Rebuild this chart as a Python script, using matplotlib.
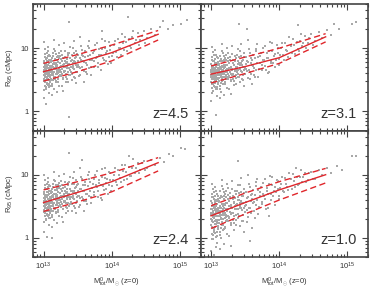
import numpy as np
import matplotlib
matplotlib.use("Agg")
import matplotlib.pyplot as plt
from matplotlib.ticker import LogLocator, FixedLocator, NullFormatter

plt.rcParams['font.family'] = ['Liberation Sans', 'DejaVu Sans']
plt.rcParams['mathtext.fontset'] = 'custom'
plt.rcParams['mathtext.rm'] = 'Liberation Sans'
plt.rcParams['mathtext.it'] = 'Liberation Sans'

# ---------------- data (log10 values) ----------------
REDSHIFT_LABELS = ["z=4.5", "z=3.1", "z=2.4", "z=1.0"]

PTS_Z45 = [(13.00,0.62),(13.01,0.48),(13.01,0.77),(13.02,0.55),(13.02,0.91),(13.03,0.66),(13.03,0.38),(13.04,0.71),(13.04,0.59),(13.05,0.84),(13.05,0.45),(13.06,0.63),(13.06,1.02),(13.07,0.52),(13.07,0.74),(13.08,0.68),(13.08,0.29),(13.09,0.57),(13.09,0.81),(13.10,0.64),(13.00,0.70),(13.01,0.34),(13.02,0.73),(13.03,0.83),(13.04,0.50),(13.05,0.60),(13.06,0.42),(13.07,0.95),(13.08,0.56),(13.09,0.70),(13.10,0.47),(13.00,0.21),(13.01,1.10),(13.03,0.12),(13.05,0.68),(13.07,0.61),(13.09,0.40),(13.02,0.64),(13.06,0.78),(13.10,0.88),
    (13.11,0.66),(13.11,0.52),(13.12,0.79),(13.12,0.61),(13.13,0.44),(13.13,0.72),(13.14,0.87),(13.14,0.58),(13.15,0.67),(13.15,0.36),(13.16,0.75),(13.16,0.63),(13.17,0.96),(13.17,0.54),(13.18,0.70),(13.18,0.47),(13.19,0.82),(13.19,0.65),(13.20,0.59),(13.20,0.74),(13.21,0.88),(13.21,0.51),(13.22,0.69),(13.22,0.62),(13.23,1.05),(13.23,0.41),(13.24,0.77),(13.24,0.66),(13.25,0.56),(13.25,0.83),(13.13,0.26),(13.16,1.13),(13.19,0.30),(13.22,0.93),(13.12,0.70),
    (13.26,0.72),(13.27,0.60),(13.28,0.85),(13.29,0.53),(13.30,0.70),(13.31,0.95),(13.32,0.64),(13.33,0.46),(13.34,0.78),(13.35,0.68),(13.36,0.89),(13.37,0.57),(13.38,0.75),(13.39,1.02),(13.40,0.63),(13.41,0.81),(13.42,0.50),(13.43,0.72),(13.44,0.92),(13.45,0.67),(13.27,0.40),(13.30,1.08),(13.33,0.77),(13.36,0.62),(13.39,0.84),(13.42,0.71),(13.37,-0.08),(13.37,1.41),(13.29,0.33),(13.44,1.12),
    (13.46,0.78),(13.47,0.62),(13.49,0.91),(13.50,0.73),(13.52,0.56),(13.53,0.85),(13.55,1.04),(13.56,0.70),(13.58,0.80),(13.59,0.64),(13.61,0.95),(13.62,0.76),(13.64,0.59),(13.65,0.88),(13.67,1.12),(13.68,0.81),(13.70,0.71),(13.48,0.45),(13.54,1.18),(13.60,0.47),(13.66,1.00),(13.57,0.90),
    (13.72,0.92),(13.74,0.79),(13.76,1.05),(13.78,0.86),(13.80,0.70),(13.82,0.98),(13.84,0.90),(13.86,1.15),(13.88,0.82),(13.90,1.01),(13.92,0.93),(13.94,0.75),(13.96,1.10),(13.98,0.97),(14.00,0.88),(13.85,1.27),
    (14.03,1.05),(14.06,0.94),(14.09,1.14),(14.12,1.01),(14.15,1.22),(14.18,0.97),(14.21,1.10),(14.24,1.50),(14.27,1.04),(14.30,1.17),(14.34,1.09),(14.38,1.24),
    (14.42,1.13),(14.47,1.27),(14.52,1.16),(14.58,1.30),(14.63,1.21),(14.70,1.33),(14.75,1.43),(14.82,1.31),(14.90,1.37),(15.02,1.39),(15.10,1.44),
    (13.005,0.58),(13.015,0.69),(13.025,0.47),(13.035,0.75),(13.045,0.64),(13.055,0.53),(13.065,0.87),(13.075,0.66),(13.085,0.43),(13.095,0.72),
    (13.005,0.79),(13.015,0.41),(13.025,0.60),(13.035,0.55),(13.045,0.93),(13.055,0.71),(13.065,0.49),(13.075,0.58),(13.085,0.77),(13.095,0.62),
    (13.005,0.51),(13.015,0.86),(13.025,0.68),(13.035,0.36),(13.045,0.73),(13.055,0.63),(13.065,0.56),(13.075,0.81),(13.085,0.61),(13.095,0.49),
    (13.005,0.66),(13.015,0.57),(13.025,0.98),(13.035,0.63),(13.045,0.44),(13.055,0.80),(13.065,0.69),(13.075,0.39),(13.085,0.90),(13.095,0.55),
    (13.105,0.69),(13.115,0.57),(13.125,0.84),(13.135,0.62),(13.145,0.49),(13.155,0.76),(13.165,0.68),(13.175,0.59),(13.185,0.91),(13.195,0.72),
    (13.105,0.50),(13.115,0.78),(13.125,0.64),(13.135,0.92),(13.145,0.71),(13.155,0.55),(13.165,0.83),(13.175,0.74),(13.185,0.48),(13.195,0.63),
    (13.105,0.82),(13.115,0.66),(13.125,0.40),(13.135,0.75),(13.145,0.60),(13.155,0.99),(13.165,0.52),(13.175,0.67),(13.185,0.77),(13.195,0.86),
    (13.205,0.66),(13.215,0.78),(13.225,0.56),(13.235,0.71),(13.245,0.88),(13.255,0.63),(13.265,0.80),(13.275,0.67),(13.285,0.52),(13.295,0.75),
    (13.205,0.47),(13.215,0.61),(13.225,0.85),(13.235,0.58),(13.245,0.70),(13.255,0.96),(13.265,0.59),(13.275,0.90),(13.285,0.73),(13.295,0.64),
    (13.31,0.71),(13.33,0.60),(13.35,0.83),(13.37,0.69),(13.39,0.58),(13.41,0.90),(13.43,0.77),(13.45,0.55),(13.47,0.86),(13.49,0.70),
    (13.32,0.86),(13.34,0.52),(13.36,0.75),(13.38,0.93),(13.40,0.70),(13.44,0.80),(13.48,0.96),(13.51,0.79),(13.53,0.68),(13.58,0.88),
    (13.305,0.62),(13.315,0.80),(13.325,0.55),(13.345,0.70),(13.355,0.92),(13.365,0.47),(13.385,0.66),(13.395,0.79),(13.415,0.59),(13.425,1.00),
    (13.435,0.68),(13.455,0.84),(13.465,0.53),(13.475,0.74),(13.495,0.63),(13.505,0.90),(13.515,0.71),(13.535,0.57),(13.545,0.82),(13.565,0.97),
    (13.575,0.66),(13.595,0.78),(13.605,0.86),(13.625,0.62),(13.635,0.73),(13.655,1.03),(13.665,0.69),(13.685,0.90),(13.695,0.58),(13.715,0.81),
    (13.735,0.96),(13.745,0.70),(13.765,0.85),(13.785,1.08),(13.795,0.76),(13.815,0.89),(13.835,0.65),(13.855,0.99),(13.875,0.84),(13.895,1.12),
    (13.915,0.80),(13.935,0.95),(13.955,0.86),(13.975,1.04),(13.995,0.77),(14.015,0.93),(14.045,1.12),(14.075,0.86),(14.105,1.01),(14.135,0.90),
    (14.165,1.08),(14.195,1.18),(14.225,0.95),(14.255,1.14),(14.285,1.00),(14.315,1.27),(14.355,1.13),(14.395,1.05),(14.44,1.20),(14.49,1.09)]

PTS_Z31 = [(13.00,0.58),(13.01,0.44),(13.01,0.72),(13.02,0.51),(13.02,0.86),(13.03,0.62),(13.03,0.33),(13.04,0.67),(13.04,0.55),(13.05,0.79),(13.05,0.41),(13.06,0.60),(13.06,0.97),(13.07,0.48),(13.07,0.70),(13.08,0.64),(13.08,0.24),(13.09,0.53),(13.09,0.76),(13.10,0.61),(13.00,0.66),(13.01,0.29),(13.02,0.69),(13.03,0.80),(13.04,0.46),(13.05,0.56),(13.06,0.38),(13.07,0.90),(13.08,0.52),(13.09,0.66),(13.10,0.43),(13.00,0.16),(13.01,1.02),(13.07,-0.06),(13.05,0.63),(13.07,0.57),(13.09,0.35),(13.02,0.60),(13.06,0.74),(13.10,0.84),
    (13.11,0.62),(13.11,0.48),(13.12,0.75),(13.12,0.57),(13.13,0.40),(13.13,0.68),(13.14,0.83),(13.14,0.54),(13.15,0.63),(13.15,0.31),(13.16,0.71),(13.16,0.59),(13.17,0.92),(13.17,0.50),(13.18,0.66),(13.18,0.43),(13.19,0.78),(13.19,0.61),(13.20,0.55),(13.20,0.70),(13.21,0.84),(13.21,0.47),(13.22,0.65),(13.22,0.58),(13.23,1.00),(13.23,0.37),(13.24,0.73),(13.24,0.62),(13.25,0.52),(13.25,0.79),(13.13,0.21),(13.16,1.06),(13.19,0.26),(13.22,0.89),(13.12,0.66),
    (13.26,0.68),(13.27,0.56),(13.28,0.81),(13.29,0.49),(13.30,0.66),(13.31,0.91),(13.32,0.60),(13.33,0.42),(13.34,0.74),(13.35,0.64),(13.36,0.85),(13.37,0.53),(13.38,0.71),(13.39,0.98),(13.40,0.59),(13.41,0.77),(13.42,0.46),(13.43,0.68),(13.44,0.88),(13.45,0.63),(13.27,0.36),(13.30,1.03),(13.33,0.73),(13.36,0.58),(13.39,0.80),(13.42,0.67),(13.41,1.38),(13.29,0.28),(13.44,1.07),
    (13.46,0.73),(13.47,0.58),(13.49,0.86),(13.50,0.68),(13.52,1.30),(13.53,0.80),(13.55,0.99),(13.56,0.66),(13.58,0.76),(13.59,0.60),(13.61,0.90),(13.62,0.72),(13.64,0.55),(13.65,0.84),(13.67,1.06),(13.68,0.77),(13.70,0.67),(13.48,0.41),(13.54,1.13),(13.60,0.44),(13.66,0.96),(13.57,0.52),
    (13.72,0.87),(13.74,0.74),(13.76,1.00),(13.78,0.81),(13.80,0.66),(13.82,0.93),(13.84,0.85),(13.86,1.10),(13.88,0.77),(13.90,0.96),(13.92,0.88),(13.94,0.70),(13.96,1.05),(13.98,0.92),(14.00,0.83),(13.85,0.62),
    (14.03,1.00),(14.06,0.89),(14.09,1.09),(14.12,0.96),(14.15,1.17),(14.18,0.92),(14.21,1.05),(14.28,1.36),(14.27,0.99),(14.30,1.12),(14.34,1.04),(14.38,1.19),
    (14.42,1.08),(14.47,1.22),(14.52,1.11),(14.58,1.25),(14.63,1.16),(14.70,1.28),(14.76,1.21),(14.80,1.39),(14.88,1.30),(15.07,1.38),(15.12,1.41),
    (13.005,0.54),(13.015,0.65),(13.025,0.43),(13.035,0.71),(13.045,0.60),(13.055,0.49),(13.065,0.83),(13.075,0.62),(13.085,0.39),(13.095,0.68),
    (13.005,0.75),(13.015,0.37),(13.025,0.56),(13.035,0.51),(13.045,0.89),(13.055,0.67),(13.065,0.45),(13.075,0.54),(13.085,0.73),(13.095,0.58),
    (13.005,0.47),(13.015,0.82),(13.025,0.64),(13.035,0.32),(13.045,0.69),(13.055,0.59),(13.065,0.52),(13.075,0.77),(13.085,0.57),(13.095,0.45),
    (13.005,0.62),(13.015,0.53),(13.025,0.94),(13.035,0.59),(13.045,0.40),(13.055,0.76),(13.065,0.65),(13.075,0.35),(13.085,0.86),(13.095,0.51),
    (13.105,0.65),(13.115,0.53),(13.125,0.80),(13.135,0.58),(13.145,0.45),(13.155,0.72),(13.165,0.64),(13.175,0.55),(13.185,0.87),(13.195,0.68),
    (13.105,0.46),(13.115,0.74),(13.125,0.60),(13.135,0.88),(13.145,0.67),(13.155,0.51),(13.165,0.79),(13.175,0.70),(13.185,0.44),(13.195,0.59),
    (13.105,0.78),(13.115,0.62),(13.125,0.36),(13.135,0.71),(13.145,0.56),(13.155,0.95),(13.165,0.48),(13.175,0.63),(13.185,0.73),(13.195,0.82),
    (13.205,0.62),(13.215,0.74),(13.225,0.52),(13.235,0.67),(13.245,0.84),(13.255,0.59),(13.265,0.76),(13.275,0.63),(13.285,0.48),(13.295,0.71),
    (13.205,0.43),(13.215,0.57),(13.225,0.81),(13.235,0.54),(13.245,0.66),(13.255,0.92),(13.265,0.55),(13.275,0.86),(13.285,0.69),(13.295,0.60),
    (13.31,0.67),(13.33,0.56),(13.35,0.79),(13.37,0.65),(13.39,0.54),(13.41,0.86),(13.43,0.73),(13.45,0.51),(13.47,0.82),(13.49,0.66),
    (13.32,0.82),(13.34,0.48),(13.36,0.71),(13.38,0.89),(13.40,0.66),(13.44,0.76),(13.48,0.92),(13.51,0.75),(13.53,0.64),(13.58,0.84),
    (13.305,0.58),(13.315,0.76),(13.325,0.51),(13.345,0.66),(13.355,0.88),(13.365,0.43),(13.385,0.62),(13.395,0.75),(13.415,0.55),(13.425,0.96),
    (13.435,0.64),(13.455,0.80),(13.465,0.49),(13.475,0.70),(13.495,0.59),(13.505,0.86),(13.515,0.67),(13.535,0.53),(13.545,0.78),(13.565,0.93),
    (13.575,0.62),(13.595,0.74),(13.605,0.82),(13.625,0.58),(13.635,0.69),(13.655,0.99),(13.665,0.65),(13.685,0.86),(13.695,0.54),(13.715,0.77),
    (13.735,0.92),(13.745,0.66),(13.765,0.81),(13.785,1.04),(13.795,0.72),(13.815,0.85),(13.835,0.61),(13.855,0.95),(13.875,0.80),(13.895,1.08),
    (13.915,0.76),(13.935,0.91),(13.955,0.82),(13.975,1.00),(13.995,0.73),(14.015,0.89),(14.045,1.08),(14.075,0.82),(14.105,0.97),(14.135,0.86),
    (14.165,1.04),(14.195,1.14),(14.225,0.91),(14.255,1.10),(14.285,0.96),(14.315,1.23),(14.355,1.09),(14.395,1.01),(14.44,1.16),(14.49,1.05)]

PTS_Z24 = [(13.00,0.55),(13.01,0.41),(13.01,0.70),(13.02,0.48),(13.02,0.84),(13.03,0.59),(13.03,0.30),(13.04,0.65),(13.04,0.52),(13.05,0.77),(13.05,0.38),(13.06,0.57),(13.06,0.95),(13.07,0.45),(13.07,0.68),(13.08,0.61),(13.08,0.21),(13.09,0.50),(13.09,0.74),(13.10,0.58),(13.00,0.63),(13.01,0.26),(13.02,0.67),(13.03,0.78),(13.04,0.43),(13.05,0.53),(13.06,0.35),(13.07,0.88),(13.08,0.49),(13.09,0.64),(13.10,0.40),(13.00,0.10),(13.01,0.99),(13.05,0.02),(13.12,0.00),(13.07,0.54),(13.09,0.32),(13.02,0.57),(13.06,0.72),(13.10,0.82),
    (13.11,0.60),(13.11,0.45),(13.12,0.73),(13.12,0.55),(13.13,0.37),(13.13,0.66),(13.14,0.81),(13.14,0.51),(13.15,0.61),(13.15,0.28),(13.16,0.69),(13.16,0.56),(13.17,0.90),(13.17,0.47),(13.18,0.64),(13.18,0.40),(13.19,0.76),(13.19,0.59),(13.20,0.52),(13.20,0.68),(13.21,0.83),(13.21,0.44),(13.22,0.63),(13.22,0.56),(13.23,0.98),(13.23,0.34),(13.24,0.71),(13.24,0.60),(13.25,0.49),(13.25,0.77),(13.13,0.18),(13.16,1.04),(13.19,0.23),(13.22,0.87),(13.12,0.64),
    (13.26,0.66),(13.27,0.53),(13.28,0.79),(13.29,0.46),(13.30,0.64),(13.31,0.89),(13.32,0.58),(13.33,0.39),(13.34,0.72),(13.35,0.62),(13.36,0.83),(13.37,0.50),(13.38,0.69),(13.39,0.96),(13.40,0.57),(13.41,0.75),(13.42,0.43),(13.43,0.66),(13.44,0.86),(13.45,0.61),(13.27,0.33),(13.30,1.01),(13.33,0.71),(13.36,0.56),(13.39,0.78),(13.42,0.65),(13.37,1.35),(13.29,0.25),(13.44,1.05),
    (13.46,0.71),(13.47,0.56),(13.49,0.84),(13.50,0.66),(13.52,0.49),(13.53,0.78),(13.55,0.97),(13.56,0.64),(13.58,0.74),(13.59,0.58),(13.61,0.88),(13.62,0.70),(13.64,0.53),(13.65,0.82),(13.67,1.04),(13.68,0.75),(13.70,0.65),(13.48,0.39),(13.54,1.11),(13.60,0.42),(13.66,0.94),(13.57,1.24),
    (13.72,0.86),(13.74,0.73),(13.76,0.99),(13.78,0.80),(13.80,0.64),(13.82,0.92),(13.84,0.84),(13.86,1.09),(13.88,0.76),(13.90,0.95),(13.92,0.87),(13.94,0.69),(13.96,1.04),(13.98,0.91),(14.00,0.82),(13.85,0.60),
    (14.03,0.99),(14.06,0.88),(14.09,1.08),(14.12,0.95),(14.15,1.16),(14.18,0.91),(14.21,1.04),(14.25,1.30),(14.27,0.98),(14.30,1.11),(14.34,1.03),(14.38,1.18),
    (14.42,1.07),(14.47,1.21),(14.52,1.10),(14.58,1.24),(14.63,1.15),(14.70,1.27),(14.76,1.20),(14.84,1.33),(14.90,1.29),(15.02,1.42),(15.07,1.40),
    (13.005,0.51),(13.015,0.62),(13.025,0.40),(13.035,0.68),(13.045,0.57),(13.055,0.46),(13.065,0.80),(13.075,0.59),(13.085,0.36),(13.095,0.65),
    (13.005,0.72),(13.015,0.34),(13.025,0.53),(13.035,0.48),(13.045,0.86),(13.055,0.64),(13.065,0.42),(13.075,0.51),(13.085,0.70),(13.095,0.55),
    (13.005,0.44),(13.015,0.79),(13.025,0.61),(13.035,0.29),(13.045,0.66),(13.055,0.56),(13.065,0.49),(13.075,0.74),(13.085,0.54),(13.095,0.42),
    (13.005,0.59),(13.015,0.50),(13.025,0.91),(13.035,0.56),(13.045,0.37),(13.055,0.73),(13.065,0.62),(13.075,0.32),(13.085,0.83),(13.095,0.48),
    (13.105,0.62),(13.115,0.50),(13.125,0.77),(13.135,0.55),(13.145,0.42),(13.155,0.69),(13.165,0.61),(13.175,0.52),(13.185,0.84),(13.195,0.65),
    (13.105,0.43),(13.115,0.71),(13.125,0.57),(13.135,0.85),(13.145,0.64),(13.155,0.48),(13.165,0.76),(13.175,0.67),(13.185,0.41),(13.195,0.56),
    (13.105,0.75),(13.115,0.59),(13.125,0.33),(13.135,0.68),(13.145,0.53),(13.155,0.92),(13.165,0.45),(13.175,0.60),(13.185,0.70),(13.195,0.79),
    (13.205,0.60),(13.215,0.72),(13.225,0.50),(13.235,0.65),(13.245,0.82),(13.255,0.57),(13.265,0.74),(13.275,0.61),(13.285,0.46),(13.295,0.69),
    (13.205,0.41),(13.215,0.55),(13.225,0.79),(13.235,0.52),(13.245,0.64),(13.255,0.90),(13.265,0.53),(13.275,0.84),(13.285,0.67),(13.295,0.58),
    (13.31,0.66),(13.33,0.55),(13.35,0.78),(13.37,0.64),(13.39,0.53),(13.41,0.85),(13.43,0.72),(13.45,0.50),(13.47,0.81),(13.49,0.65),
    (13.32,0.81),(13.34,0.47),(13.36,0.70),(13.38,0.88),(13.40,0.65),(13.44,0.75),(13.48,0.91),(13.51,0.74),(13.53,0.63),(13.58,0.83),
    (13.305,0.57),(13.315,0.75),(13.325,0.49),(13.345,0.65),(13.355,0.87),(13.365,0.42),(13.385,0.61),(13.395,0.74),(13.415,0.54),(13.425,0.95),
    (13.435,0.63),(13.455,0.79),(13.465,0.48),(13.475,0.69),(13.495,0.58),(13.505,0.85),(13.515,0.66),(13.535,0.52),(13.545,0.77),(13.565,0.93),
    (13.575,0.62),(13.595,0.74),(13.605,0.83),(13.625,0.59),(13.635,0.70),(13.655,1.00),(13.665,0.66),(13.685,0.88),(13.695,0.55),(13.715,0.79),
    (13.735,0.94),(13.745,0.68),(13.765,0.83),(13.785,1.06),(13.795,0.74),(13.815,0.87),(13.835,0.63),(13.855,0.97),(13.875,0.82),(13.895,1.10),
    (13.915,0.78),(13.935,0.93),(13.955,0.84),(13.975,1.02),(13.995,0.75),(14.015,0.91),(14.045,1.10),(14.075,0.84),(14.105,0.99),(14.135,0.88),
    (14.165,1.06),(14.195,1.16),(14.225,0.93),(14.255,1.12),(14.285,0.98),(14.315,1.25),(14.355,1.11),(14.395,1.03),(14.44,1.18),(14.49,1.07)]

PTS_Z10 = [(13.00,0.36),(13.01,0.18),(13.01,0.55),(13.02,0.27),(13.02,0.70),(13.03,0.40),(13.03,0.05),(13.04,0.47),(13.04,0.31),(13.05,0.62),(13.05,0.12),(13.06,0.38),(13.06,0.80),(13.07,0.22),(13.07,0.50),(13.08,0.43),(13.08,-0.08),(13.09,0.29),(13.09,0.58),(13.10,0.39),(13.00,0.46),(13.01,-0.02),(13.02,0.51),(13.03,0.64),(13.04,0.16),(13.05,0.33),(13.06,0.08),(13.07,0.74),(13.08,0.26),(13.09,0.45),(13.10,0.14),(13.00,-0.20),(13.01,0.86),(13.05,-0.27),(13.07,-0.14),(13.07,0.34),(13.09,0.03),(13.02,0.37),(13.06,0.56),(13.10,0.67),
    (13.11,0.42),(13.11,0.24),(13.12,0.58),(13.12,0.35),(13.13,0.10),(13.13,0.49),(13.14,0.67),(13.14,0.30),(13.15,0.43),(13.15,0.00),(13.16,0.53),(13.16,0.37),(13.17,0.78),(13.17,0.20),(13.18,0.46),(13.18,0.13),(13.19,0.61),(13.19,0.41),(13.20,0.32),(13.20,0.52),(13.21,0.70),(13.21,0.18),(13.22,0.45),(13.22,0.36),(13.23,0.85),(13.23,0.06),(13.24,0.55),(13.24,0.42),(13.25,0.27),(13.25,0.62),(13.13,-0.18),(13.16,0.92),(13.19,-0.10),(13.22,0.74),(13.12,0.47),
    (13.26,0.50),(13.27,0.33),(13.28,0.65),(13.29,0.24),(13.30,0.47),(13.31,0.77),(13.32,0.39),(13.33,0.12),(13.34,0.57),(13.35,0.45),(13.36,0.70),(13.37,0.29),(13.38,0.53),(13.39,0.84),(13.40,0.38),(13.41,0.60),(13.42,0.19),(13.43,0.50),(13.44,0.73),(13.45,0.44),(13.27,0.03),(13.30,0.90),(13.33,0.55),(13.36,0.36),(13.39,0.64),(13.42,0.48),(13.39,1.22),(13.29,-0.12),(13.44,0.95),
    (13.46,0.55),(13.47,0.37),(13.49,0.71),(13.50,0.50),(13.52,0.26),(13.53,0.63),(13.55,0.86),(13.56,0.47),(13.58,0.59),(13.59,0.39),(13.61,0.76),(13.62,0.55),(13.64,0.32),(13.65,0.68),(13.67,0.93),(13.68,0.60),(13.70,0.49),(13.48,0.10),(13.54,1.00),(13.60,0.15),(13.66,0.82),(13.57,-0.05),
    (13.72,0.72),(13.74,0.57),(13.76,0.87),(13.78,0.66),(13.80,0.46),(13.82,0.79),(13.84,0.70),(13.86,0.98),(13.88,0.60),(13.90,0.83),(13.92,0.74),(13.94,0.52),(13.96,0.92),(13.98,0.78),(14.00,0.67),(13.85,0.35),
    (14.03,0.86),(14.06,0.74),(14.09,0.95),(14.12,0.81),(14.15,1.03),(14.18,0.77),(14.21,0.90),(14.25,1.10),(14.27,0.84),(14.30,0.97),(14.34,0.88),(14.38,1.02),
    (14.42,0.92),(14.47,1.05),(14.52,0.94),(14.58,1.08),(14.63,0.99),(14.70,1.10),(14.76,1.02),(14.84,1.14),(14.92,1.08),(15.07,1.30),(15.12,1.29),
    (13.005,0.30),(13.015,0.45),(13.025,0.15),(13.035,0.52),(13.045,0.38),(13.055,0.22),(13.065,0.66),(13.075,0.41),(13.085,0.09),(13.095,0.48),
    (13.005,0.58),(13.015,0.06),(13.025,0.33),(13.035,0.25),(13.045,0.73),(13.055,0.47),(13.065,0.18),(13.075,0.29),(13.085,0.54),(13.095,0.35),
    (13.005,0.20),(13.015,0.64),(13.025,0.42),(13.035,-0.01),(13.045,0.50),(13.055,0.37),(13.065,0.27),(13.075,0.60),(13.085,0.34),(13.095,0.17),
    (13.005,0.40),(13.015,0.28),(13.025,0.78),(13.035,0.36),(13.045,0.10),(13.055,0.59),(13.065,0.44),(13.075,0.02),(13.085,0.70),(13.095,0.24),
    (13.105,0.44),(13.115,0.28),(13.125,0.63),(13.135,0.34),(13.145,0.16),(13.155,0.53),(13.165,0.42),(13.175,0.30),(13.185,0.72),(13.195,0.47),
    (13.105,0.19),(13.115,0.57),(13.125,0.38),(13.135,0.75),(13.145,0.48),(13.155,0.25),(13.165,0.64),(13.175,0.51),(13.185,0.14),(13.195,0.36),
    (13.105,0.61),(13.115,0.39),(13.125,0.04),(13.135,0.50),(13.145,0.31),(13.155,0.82),(13.165,0.21),(13.175,0.40),(13.185,0.54),(13.195,0.66),
    (13.205,0.40),(13.215,0.56),(13.225,0.27),(13.235,0.46),(13.245,0.68),(13.255,0.35),(13.265,0.58),(13.275,0.41),(13.285,0.21),(13.295,0.52),
    (13.205,0.15),(13.215,0.33),(13.225,0.64),(13.235,0.29),(13.245,0.45),(13.255,0.79),(13.265,0.31),(13.275,0.71),(13.285,0.49),(13.295,0.38),
    (13.31,0.48),(13.33,0.34),(13.35,0.63),(13.37,0.45),(13.39,0.31),(13.41,0.71),(13.43,0.55),(13.45,0.27),(13.47,0.66),(13.49,0.47),
    (13.32,0.66),(13.34,0.24),(13.36,0.52),(13.38,0.75),(13.40,0.46),(13.44,0.58),(13.48,0.78),(13.51,0.57),(13.53,0.44),(13.58,0.68),
    (13.305,0.40),(13.315,0.62),(13.325,0.28),(13.345,0.50),(13.355,0.75),(13.365,0.20),(13.385,0.45),(13.395,0.60),(13.415,0.35),(13.425,0.83),
    (13.435,0.48),(13.455,0.66),(13.465,0.27),(13.475,0.55),(13.495,0.41),(13.505,0.73),(13.515,0.52),(13.535,0.33),(13.545,0.64),(13.565,0.81),
    (13.575,0.47),(13.595,0.61),(13.605,0.70),(13.625,0.43),(13.635,0.57),(13.655,0.88),(13.665,0.52),(13.685,0.76),(13.695,0.38),(13.715,0.66),
    (13.735,0.80),(13.745,0.54),(13.765,0.70),(13.785,0.93),(13.795,0.61),(13.815,0.75),(13.835,0.47),(13.855,0.85),(13.875,0.70),(13.895,0.97),
    (13.915,0.66),(13.935,0.81),(13.955,0.72),(13.975,0.90),(13.995,0.62),(14.015,0.79),(14.045,0.97),(14.075,0.72),(14.105,0.86),(14.135,0.76),
    (14.165,0.93),(14.195,1.01),(14.225,0.80),(14.255,0.97),(14.285,0.85),(14.315,1.07),(14.355,0.96),(14.395,0.89),(14.44,1.02),(14.49,0.94)]

# median and 16/84 percentile lines (log10 R) at these log10 masses
LINE_LOGM = [13.0, 13.5, 14.0, 14.68]
MED_Z45 = [0.63, 0.77, 0.93, 1.22]
UP_Z45 = [0.76, 0.90, 1.05, 1.28]
LO_Z45 = [0.48, 0.63, 0.80, 1.13]
MED_Z31 = [0.59, 0.71, 0.85, 1.18]
UP_Z31 = [0.72, 0.86, 1.00, 1.23]
LO_Z31 = [0.45, 0.60, 0.76, 1.10]
MED_Z24 = [0.56, 0.72, 0.89, 1.19]
UP_Z24 = [0.76, 0.89, 1.03, 1.27]
LO_Z24 = [0.42, 0.57, 0.73, 1.06]
MED_Z10 = [0.35, 0.56, 0.76, 1.00]
UP_Z10 = [0.51, 0.71, 0.89, 1.10]
LO_Z10 = [0.15, 0.38, 0.60, 0.87]

PANELS = [
    (PTS_Z45, MED_Z45, UP_Z45, LO_Z45),
    (PTS_Z31, MED_Z31, UP_Z31, LO_Z31),
    (PTS_Z24, MED_Z24, UP_Z24, LO_Z24),
    (PTS_Z10, MED_Z10, UP_Z10, LO_Z10),
]

XLIM = (7e12, 2e15)
YLIM = (0.5, 50)
XTICKS = [1e13, 1e14, 1e15]
XTICKLABELS = ["10$^{13}$", "10$^{14}$", "10$^{15}$"]
YTICKS = [1, 10]
YTICKLABELS = ["1", "10"]

# ---------------- figure ----------------
W, H = 374, 290
fig = plt.figure(figsize=(W / 100, H / 100), dpi=100)
L, R, T, B = 33, 368, 4, 257
pw = (R - L) / 2
ph = (B - T) / 2

TXT = '#333333'
SPINE = '#444444'
GRAY = '#a8a8a8'
RED = '#e0262b'

for i, (pts, med, up, lo) in enumerate(PANELS):
    r, c = divmod(i, 2)
    x0 = (L + c * pw) / W
    y0 = 1 - (T + (r + 1) * ph) / H
    ax = fig.add_axes([x0, y0, pw / W, ph / H])
    lm = np.array([p[0] for p in pts])
    lr = np.array([p[1] for p in pts])
    ax.scatter(10 ** lm, 10 ** lr, s=3.0, marker='s', color=GRAY, linewidths=0, zorder=1)
    xm = 10 ** np.array(LINE_LOGM)
    ax.plot(xm, 10 ** np.array(med), color=RED, lw=1.0, zorder=3)
    ax.plot(xm, 10 ** np.array(up), color=RED, lw=1.0, ls=(0, (4.5, 2.5)), zorder=3)
    ax.plot(xm, 10 ** np.array(lo), color=RED, lw=1.0, ls=(0, (4.5, 2.5)), zorder=3)
    ax.set_xscale('log')
    ax.set_yscale('log')
    ax.set_xlim(*XLIM)
    ax.set_ylim(*YLIM)
    ax.xaxis.set_major_locator(FixedLocator(XTICKS))
    ax.xaxis.set_minor_locator(LogLocator(base=10, subs=np.arange(2, 10)))
    ax.yaxis.set_major_locator(FixedLocator(YTICKS))
    ax.yaxis.set_minor_locator(LogLocator(base=10, subs=np.arange(2, 10)))
    ax.xaxis.set_minor_formatter(NullFormatter())
    ax.yaxis.set_minor_formatter(NullFormatter())
    ax.tick_params(which='both', direction='in', top=True, right=True, colors=SPINE,
                   labelcolor=TXT, labelsize=5.5, width=0.8)
    ax.tick_params(which='major', length=4, pad=3)
    ax.tick_params(which='minor', length=2)
    for s in ax.spines.values():
        s.set_linewidth(1.2)
        s.set_color(SPINE)
    if r == 1:
        ax.set_xticklabels(XTICKLABELS)
        ax.set_xlabel("M$^0_{tot}$/M$_{\\odot}$ (z=0)", fontsize=5.5, color=TXT, labelpad=2)
    else:
        ax.set_xticklabels([])
    if c == 0:
        ax.set_yticklabels(YTICKLABELS)
        ax.set_ylabel("R$_{95}$ (cMpc)", fontsize=5.5, color=TXT, labelpad=4)
    else:
        ax.set_yticklabels([])
    ax.text(0.93, 0.10, REDSHIFT_LABELS[i], transform=ax.transAxes, ha='right', va='baseline',
            fontsize=10.5, color=TXT)

fig.savefig("out.png", dpi=100)
